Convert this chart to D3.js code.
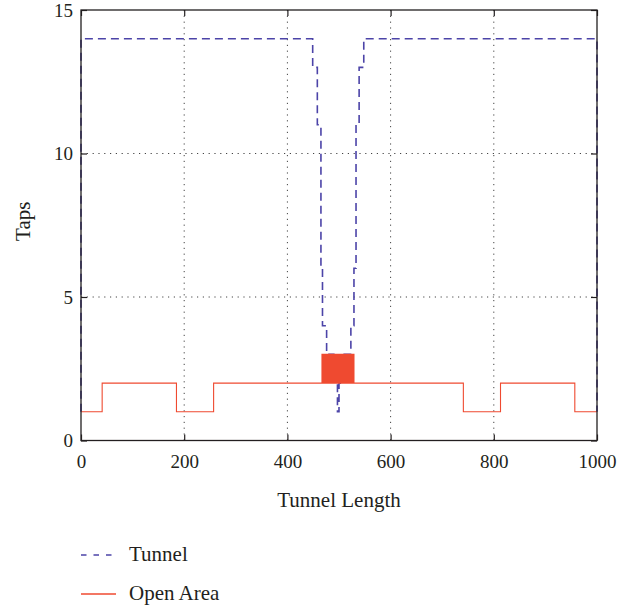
<!DOCTYPE html>
<html>
<head>
<meta charset="utf-8">
<script src="https://cdn.jsdelivr.net/npm/d3@7"></script>
<style>
  html, body { margin: 0; padding: 0; background: #fff; }
  svg { display: block; }
  text { font-family: "Liberation Serif", "Times New Roman", serif; fill: #231f20; }
</style>
</head>
<body>
<svg id="chart" width="636" height="607"></svg>
<script>
// Axis ticks
const xTicks = [0, 200, 400, 600, 800, 1000];
const yTicks = [0, 5, 10, 15];
const xGrid = [200, 400, 600, 800];
const yGrid = [5, 10];

// Tunnel: number of taps along the tunnel (step changes at each x)
const tunnelSteps = [
  [0, 1], [0, 14], [449, 13], [458, 11], [465, 6], [468, 4], [476, 3],
  [490, 2], [497, 1], [500, 2], [505, 3], [523, 4], [529, 6], [533, 11],
  [539, 13], [548, 14], [1000, 1]
];

// Open area: taps along the tunnel, rapid switching between 2 and 3 in the middle
const openAreaSteps = [
  [0, 1], [41, 2], [185, 1], [257, 2],
  [467, 3], [468, 2], [469, 3], [470, 2], [471, 3], [472, 2], [473, 3], [474, 2],
  [475, 3], [476, 2], [477, 3], [478, 2], [479, 3], [480, 2], [481, 3], [482, 2],
  [483, 3], [484, 2], [485, 3], [486, 2], [487, 3], [488, 2], [489, 3], [490, 2],
  [491, 3], [492, 2], [493, 3], [494, 2], [495, 3], [496, 2], [497, 3], [498, 2],
  [499, 3], [500, 2], [501, 3], [502, 2], [503, 3], [504, 2], [505, 3], [506, 2],
  [507, 3], [508, 2], [509, 3], [510, 2], [511, 3], [512, 2], [513, 3], [514, 2],
  [515, 3], [516, 2], [517, 3], [518, 2], [519, 3], [520, 2], [521, 3], [522, 2],
  [523, 3], [524, 2], [525, 3], [526, 2], [528, 3], [529, 2],
  [741, 1], [813, 2], [957, 1], [1000, 1]
];

const seriesNames = ["Tunnel", "Open Area"];
const tunnelColor = "#4c44a8";
const openColor = "#ef4a30";

const svg = d3.select("#chart");
const plotLeft = 81, plotRight = 597, plotTop = 10, plotBottom = 440.5;

const x = d3.scaleLinear().domain([0, 1000]).range([plotLeft, plotRight]);
const y = d3.scaleLinear().domain([0, 15]).range([plotBottom, plotTop]);

// dotted grid
const grid = svg.append("g")
  .attr("stroke", "#444")
  .attr("stroke-width", 1)
  .attr("stroke-dasharray", "1.2,4.6");
grid.selectAll(".gx").data(xGrid).join("line")
  .attr("x1", d => x(d)).attr("x2", d => x(d))
  .attr("y1", plotTop).attr("y2", plotBottom);
grid.selectAll(".gy").data(yGrid).join("line")
  .attr("x1", plotLeft).attr("x2", plotRight)
  .attr("y1", d => y(d)).attr("y2", d => y(d));

// series lines
const line = d3.line()
  .x(d => x(d[0]))
  .y(d => y(d[1]))
  .curve(d3.curveStepAfter);

svg.append("path")
  .datum(tunnelSteps)
  .attr("fill", "none")
  .attr("stroke", tunnelColor)
  .attr("stroke-width", 1.6)
  .attr("stroke-dasharray", "8,5")
  .attr("d", line);

svg.append("path")
  .datum(openAreaSteps)
  .attr("fill", "none")
  .attr("stroke", openColor)
  .attr("stroke-width", 1.1)
  .attr("d", line);

// axes with inward ticks on all four sides
const tickLen = 6;
const fmt = d3.format("d");
const axB = svg.append("g").attr("transform", `translate(0,${plotBottom})`)
  .call(d3.axisBottom(x).tickValues(xTicks).tickFormat(fmt).tickSize(-tickLen).tickPadding(14));
const axT = svg.append("g").attr("transform", `translate(0,${plotTop})`)
  .call(d3.axisTop(x).tickValues(xTicks).tickSize(-tickLen).tickFormat(""));
const axL = svg.append("g").attr("transform", `translate(${plotLeft},0)`)
  .call(d3.axisLeft(y).tickValues(yTicks).tickFormat(fmt).tickSize(-tickLen).tickPadding(8));
const axR = svg.append("g").attr("transform", `translate(${plotRight},0)`)
  .call(d3.axisRight(y).tickValues(yTicks).tickSize(-tickLen).tickFormat(""));

[axB, axT, axL, axR].forEach(g => {
  g.select(".domain").remove();
  g.selectAll(".tick line").attr("stroke", "#231f20").attr("stroke-width", 1.2);
  g.selectAll(".tick text")
    .attr("font-family", "Liberation Serif, serif")
    .attr("font-size", 19)
    .attr("fill", "#231f20");
});

// frame
svg.append("rect")
  .attr("x", plotLeft).attr("y", plotTop)
  .attr("width", plotRight - plotLeft).attr("height", plotBottom - plotTop)
  .attr("fill", "none")
  .attr("stroke", "#231f20")
  .attr("stroke-width", 1.3);

// axis titles
svg.append("text")
  .attr("x", (plotLeft + plotRight) / 2).attr("y", 507)
  .attr("text-anchor", "middle")
  .attr("font-size", 21)
  .text("Tunnel Length");

svg.append("text")
  .attr("transform", `translate(30,${(plotTop + plotBottom) / 2 - 4}) rotate(-90)`)
  .attr("text-anchor", "middle")
  .attr("font-size", 21)
  .text("Taps");

// legend
const legend = svg.append("g");
const legendRows = [
  { name: seriesNames[0], color: tunnelColor, dash: "5.5,7", width: 1.6, y: 555, ty: 561 },
  { name: seriesNames[1], color: openColor, dash: null, width: 1.3, y: 594, ty: 600 }
];
legendRows.forEach(r => {
  legend.append("line")
    .attr("x1", 81).attr("x2", 116)
    .attr("y1", r.y).attr("y2", r.y)
    .attr("stroke", r.color)
    .attr("stroke-width", r.width)
    .attr("stroke-dasharray", r.dash);
  legend.append("text")
    .attr("x", 129).attr("y", r.ty)
    .attr("font-size", 21)
    .text(r.name);
});
</script>
</body>
</html>
